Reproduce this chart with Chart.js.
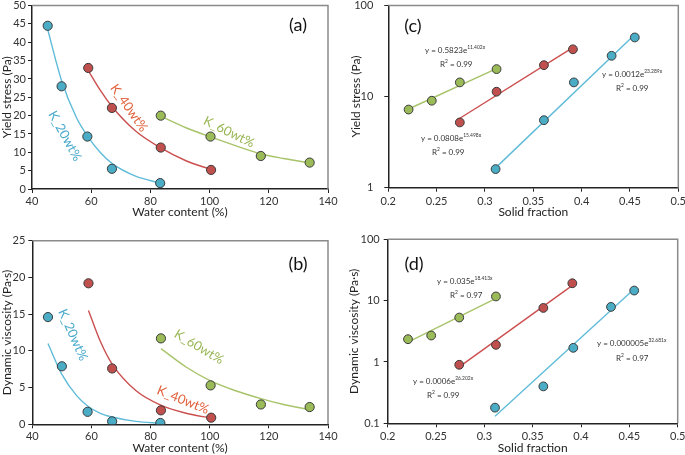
<!DOCTYPE html>
<html>
<head>
<meta charset="utf-8">
<script src="https://cdn.jsdelivr.net/npm/chart.js@4/dist/chart.umd.min.js"></script>
<style>
  html, body { margin: 0; padding: 0; background: #fff; }
  #wrap { position: relative; width: 685px; height: 455px; overflow: hidden; }
  canvas { position: absolute; }
</style>
</head>
<body>
<div id="wrap">
  <canvas id="ca" width="340" height="220" style="left:0;top:0"></canvas>
  <canvas id="cb" width="340" height="235" style="left:0;top:220px"></canvas>
  <canvas id="cc" width="345" height="220" style="left:340px;top:0"></canvas>
  <canvas id="cd" width="345" height="235" style="left:340px;top:220px"></canvas>
</div>
<script>
// ---------------- DATA ----------------
const materials = ['K_20wt%', 'K_40wt%', 'K_60wt%'];

// measured points (same order for each material)
const waterK20 = [45.3, 50.0, 58.7, 67.0, 83.3];
const waterK40 = [59.0, 67.0, 83.5, 100.5];
const waterK60 = [83.5, 100.3, 117.3, 133.8];

const solidK20 = [0.455, 0.431, 0.392, 0.361, 0.311];
const solidK40 = [0.391, 0.361, 0.312, 0.274];
const solidK60 = [0.312, 0.274, 0.245, 0.221];

const yieldK20 = [44.5, 28.0, 14.3, 5.5, 1.6];
const yieldK40 = [33.0, 22.1, 11.3, 5.2];
const yieldK60 = [20.0, 14.3, 9.0, 7.2];

const viscK20 = [14.6, 7.9, 1.7, 0.4, 0.18];
const viscK40 = [19.2, 7.6, 1.9, 0.9];
const viscK60 = [11.7, 5.3, 2.7, 2.35];

// fitted curves, panel (a)
const fitA20x = [45.3, 50, 55, 58.7, 63, 67, 75, 83.3];
const fitA20y = [43.5, 29.5, 19.5, 14.5, 10.0, 7.0, 3.5, 1.6];
const fitA40x = [59, 63, 67, 75, 83.5, 92, 100.5];
const fitA40y = [32.3, 27.0, 22.5, 15.8, 11.2, 7.7, 5.3];
const fitA60x = [83.5, 92, 100.3, 108.5, 117.3, 125, 133.8];
const fitA60y = [19.8, 16.7, 14.2, 11.9, 9.6, 8.3, 7.1];

// fitted curves, panel (b)
const fitB20x = [45.3, 50, 55, 58.7, 63, 67, 75, 83.3];
const fitB20y = [11.0, 6.8, 3.9, 2.5, 1.5, 1.0, 0.4, 0.15];
const fitB40x = [59, 63, 67, 75, 83.5, 92, 100.5];
const fitB40y = [15.5, 11.3, 8.2, 4.6, 2.6, 1.5, 0.85];
const fitB60x = [83.5, 92, 100.3, 108.5, 117.3, 125, 133.8];
const fitB60y = [10.3, 7.8, 5.9, 4.6, 3.5, 2.7, 2.0];

// exponential trend lines (end points), panel (c)
const fitC20x = [0.311, 0.455];
const fitC20y = [1.65, 48];
const fitC40x = [0.272, 0.390];
const fitC40y = [5.6, 34];
const fitC60x = [0.221, 0.313];
const fitC60y = [7.3, 20.5];

// exponential trend lines (end points), panel (d)
const fitD20x = [0.311, 0.453];
const fitD20y = [0.13, 14.5];
const fitD40x = [0.274, 0.390];
const fitD40y = [0.83, 17.2];
const fitD60x = [0.221, 0.312];
const fitD60y = [2.1, 10.9];

// tick values
const waterTicks = [40, 60, 80, 100, 120, 140];
const solidTicks = [0.2, 0.25, 0.3, 0.35, 0.4, 0.45, 0.5];
const yieldLogTicks = [1, 10, 100];
const viscLogTicks = [0.1, 1, 10, 100];

// equation texts (order: K_60, K_40, K_20)
const eqC = [['y = 0.5823e', '11.402x'], ['y = 0.0808e', '15.498x'], ['y = 0.0012e', '23.289x']];
const r2C = ['0.99', '0.99', '0.99'];
const eqD = [['y = 0.035e', '18.413x'], ['y = 0.0006e', '26.202x'], ['y = 0.000005e', '32.681x']];
const r2D = ['0.97', '0.99', '0.97'];

// ---------------- STYLE ----------------
const FONT = 'Lato, "Open Sans", sans-serif';
Chart.defaults.font.family = FONT;
Chart.defaults.color = '#333';

const FILL = ['#4bacc6', '#c0504d', '#9bbb59'];
const LINE = ['#5fbbd8', '#cc4f4f', '#a8c46a'];
const TEXTC = ['#4aaacb', '#e0603a', '#98b654'];

function pairs(xs, ys) { return xs.map((x, i) => ({x: x, y: ys[i]})); }
function pts(xs, ys, k, r) {
  return { data: pairs(xs, ys), showLine: false, pointRadius: r, pointHoverRadius: r,
           backgroundColor: FILL[k], borderColor: '#3a3a3a', borderWidth: 1 };
}
function curve(xs, ys, k, smooth) {
  return { data: pairs(xs, ys), showLine: true, pointRadius: 0, pointHoverRadius: 0,
           borderColor: LINE[k], borderWidth: 1.4, fill: false,
           cubicInterpolationMode: smooth ? 'monotone' : 'default', tension: 0 };
}

function frame() {
  return {
    id: 'frame',
    afterDraw(chart) {
      const a = chart.chartArea, c = chart.ctx;
      c.save();
      c.strokeStyle = '#8a8a8a';
      c.lineWidth = 1.5;
      c.beginPath();
      c.moveTo(a.left, a.top); c.lineTo(a.right, a.top); c.lineTo(a.right, a.bottom);
      c.stroke();
      c.restore();
    }
  };
}

function notes(list) {
  return {
    id: 'notes',
    afterDraw(chart) {
      const c = chart.ctx;
      list.forEach(n => {
        c.save();
        c.translate(n.x, n.y);
        if (n.rot) c.rotate(n.rot * Math.PI / 180);
        c.fillStyle = n.color || '#333';
        c.textBaseline = 'middle';
        if (n.parts) {
          let x = 0;
          n.parts.forEach(p => {
            c.font = (p.sup ? n.size * 0.62 : n.size) + 'px ' + FONT;
            c.fillText(p.t, x, p.sup ? -n.size * 0.38 : 0);
            x += c.measureText(p.t).width;
          });
        } else {
          c.font = n.size + 'px ' + FONT;
          c.textAlign = n.align || 'center';
          c.fillText(n.text, 0, 0);
        }
        c.restore();
      });
    }
  };
}

function eqNotes(eqs, r2s, pos) {
  const out = [];
  eqs.forEach((e, i) => {
    const p = pos[i];
    out.push({x: p[0], y: p[1], size: 8, parts: [{t: e[0]}, {t: e[1], sup: true}]});
    out.push({x: p[2], y: p[3], size: 8, parts: [{t: 'R'}, {t: '2', sup: true}, {t: ' = ' + r2s[i]}]});
  });
  return out;
}

function xAxis(min, max, list, titleText, height, tpad, tbot, fmt) {
  return {
    type: 'linear', min: min, max: max,
    afterBuildTicks: ax => { ax.ticks = list.map(v => ({value: v})); },
    ticks: { padding: tpad, font: {size: 11}, color: '#333', maxRotation: 0, autoSkip: false,
             callback: fmt },
    grid: { drawOnChartArea: false, drawTicks: true, tickLength: 4, color: '#222', lineWidth: 1 },
    border: { display: true, color: '#222', width: 1.5 },
    title: { display: true, text: titleText, font: {size: 12, lineHeight: 1.2}, color: '#222',
             padding: {top: 0, bottom: tbot} },
    afterFit: s => { s.height = height; s.paddingLeft = 0; s.paddingRight = 0; }
  };
}
function yAxis(type, min, max, list, titleText, width, tpad, ttop) {
  return {
    type: type, min: min, max: max,
    afterBuildTicks: ax => { ax.ticks = list.map(v => ({value: v})); },
    ticks: { padding: tpad, font: {size: 11}, color: '#333', autoSkip: false,
             callback: v => String(v) },
    grid: { drawOnChartArea: false, drawTicks: true, tickLength: 4, color: '#222', lineWidth: 1 },
    border: { display: true, color: '#222', width: 1.5 },
    title: { display: true, text: titleText, font: {size: 12, lineHeight: 1.0}, color: '#222',
             padding: {top: ttop, bottom: 0} },
    afterFit: s => { s.width = width; s.paddingTop = 0; s.paddingBottom = 0; }
  };
}

function baseOpts(pad, scales) {
  return {
    responsive: false, animation: false, events: [],
    layout: { padding: pad },
    plugins: { legend: {display: false}, tooltip: {enabled: false} },
    scales: scales
  };
}

const fmtSolid = v => String(+Number(v).toFixed(2));
const fmtInt = v => String(v);

// ---------------- PANEL (a) ----------------
new Chart(document.getElementById('ca'), {
  type: 'scatter',
  data: { datasets: [
    pts(waterK20, yieldK20, 0, 4.6), pts(waterK40, yieldK40, 1, 4.6), pts(waterK60, yieldK60, 2, 4.6),
    curve(fitA20x, fitA20y, 0, true), curve(fitA40x, fitA40y, 1, true), curve(fitA60x, fitA60y, 2, true)
  ]},
  options: baseOpts({top: 5, right: 12, left: 0, bottom: 0}, {
    x: xAxis(40, 140, waterTicks, 'Water content (%)', 31, 2, 1, fmtInt),
    y: yAxis('linear', 0, 50, [0, 5, 10, 15, 20, 25, 30, 35, 40, 45, 50], 'Yield stress (Pa)', 32, 2, 1)
  }),
  plugins: [frame(), notes([
    {x: 298, y: 25, size: 18, text: '(a)', color: '#111'},
    {x: 65, y: 136, size: 13, rot: 61, text: materials[0], color: TEXTC[0]},
    {x: 129, y: 108, size: 13, rot: 55, text: materials[1], color: TEXTC[1]},
    {x: 229, y: 132, size: 13, rot: 26, text: materials[2], color: TEXTC[2]}
  ])]
});

// ---------------- PANEL (b) ----------------
new Chart(document.getElementById('cb'), {
  type: 'scatter',
  data: { datasets: [
    pts(waterK20, viscK20, 0, 4.6), pts(waterK40, viscK40, 1, 4.6), pts(waterK60, viscK60, 2, 4.6),
    curve(fitB20x, fitB20y, 0, true), curve(fitB40x, fitB40y, 1, true), curve(fitB60x, fitB60y, 2, true)
  ]},
  options: baseOpts({top: 20.7, right: 12, left: 0, bottom: 0}, {
    x: xAxis(40, 140, waterTicks, 'Water content (%)', 30.7, 2, 0, fmtInt),
    y: yAxis('linear', 0, 25, [0, 5, 10, 15, 20, 25], 'Dynamic viscosity (Pa·s)', 32.3, 3, 1.5)
  }),
  plugins: [frame(), notes([
    {x: 298, y: 44, size: 18, text: '(b)', color: '#111'},
    {x: 73, y: 115, size: 13, rot: 66, text: materials[0], color: TEXTC[0]},
    {x: 183, y: 180, size: 13, rot: 22, text: materials[1], color: TEXTC[1]},
    {x: 199, y: 127, size: 13, rot: 31, text: materials[2], color: TEXTC[2]}
  ])]
});

// ---------------- PANEL (c) ----------------
new Chart(document.getElementById('cc'), {
  type: 'scatter',
  data: { datasets: [
    pts(solidK20, yieldK20, 0, 4.4), pts(solidK40, yieldK40, 1, 4.4), pts(solidK60, yieldK60, 2, 4.4),
    curve(fitC20x, fitC20y, 0, false), curve(fitC40x, fitC40y, 1, false), curve(fitC60x, fitC60y, 2, false)
  ]},
  options: baseOpts({top: 5, right: 6.7, left: 0, bottom: 0}, {
    x: xAxis(0.2, 0.5, solidTicks, 'Solid fraction', 32.3, 3, 1, fmtSolid),
    y: yAxis('logarithmic', 1, 100, yieldLogTicks, 'Yield stress (Pa)', 48.3, 11, 10)
  }),
  plugins: [frame(), notes([
    {x: 73, y: 26, size: 18, text: '(c)', color: '#111'}
  ].concat(eqNotes(eqC, r2C, [[85, 50, 100, 64], [81, 138, 92, 152], [262, 74, 276, 88]])))]
});

// ---------------- PANEL (d) ----------------
new Chart(document.getElementById('cd'), {
  type: 'scatter',
  data: { datasets: [
    pts(solidK20, viscK20, 0, 4.4), pts(solidK40, viscK40, 1, 4.4), pts(solidK60, viscK60, 2, 4.4),
    curve(fitD20x, fitD20y, 0, false), curve(fitD40x, fitD40y, 1, false), curve(fitD60x, fitD60y, 2, false)
  ]},
  options: baseOpts({top: 19.3, right: 7.3, left: 0, bottom: 0}, {
    x: xAxis(0.2, 0.5, solidTicks, 'Solid fraction', 31.7, 3, 0, fmtSolid),
    y: yAxis('logarithmic', 0.1, 100, viscLogTicks, 'Dynamic viscosity (Pa·s)', 47.7, 4, 8)
  }),
  plugins: [frame(), notes([
    {x: 74, y: 44, size: 18, text: '(d)', color: '#111'}
  ].concat(eqNotes(eqD, r2D, [[97, 61, 110, 75], [73, 161, 87, 175], [257, 123, 276, 138]])))]
});
</script>
</body>
</html>
